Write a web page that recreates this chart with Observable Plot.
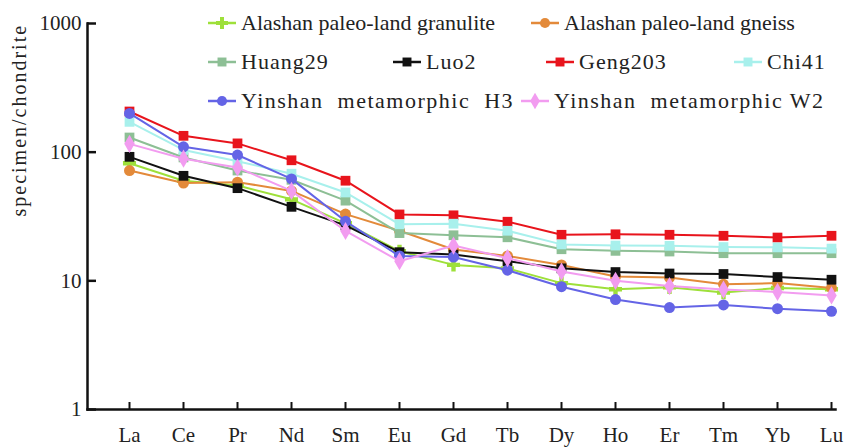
<!DOCTYPE html>
<html><head><meta charset="utf-8">
<script src="https://cdn.jsdelivr.net/npm/d3@7"></script>
<script src="https://cdn.jsdelivr.net/npm/@observablehq/plot@0.6"></script>
<style>
body{margin:0;background:#fff;}
#wrap{position:relative;width:845px;height:448px;font-family:"Liberation Serif","Times New Roman","DejaVu Serif",serif;}
.leg{position:absolute;display:flex;align-items:center;font-size:22px;color:#222;white-space:pre;line-height:1;}
.leg svg{margin-right:4px;}
</style></head><body><div id="wrap"></div>
<script>
// REE elements (x categories)
const elements = ["La","Ce","Pr","Nd","Sm","Eu","Gd","Tb","Dy","Ho","Er","Tm","Yb","Lu"];
const yTicks = [1, 10, 100, 1000];
const yLabel = "specimen/chondrite";

// series names, colours and symbols (legend order)
const names = ["Alashan paleo-land granulite","Alashan paleo-land gneiss","Huang29","Luo2","Geng203","Chi41","Yinshan  metamorphic  H3","Yinshan  metamorphic W2"];
const colors = ["#9ee03a","#e38a3a","#8dbf95","#111111","#e8141c","#a8f0ec","#6464e6","#f29cf0"];
const symbols = ["cross","circle","square","square","square","square","circle","diamond"];

// chondrite-normalised values
const granulite = [82, 60, 55, 43, 28, 17, 13.3, 12.5, 9.6, 8.6, 8.9, 8.1, 8.8, 8.6];
const gneiss    = [72, 57.5, 58.5, 50, 33, 24.5, 17.5, 15.6, 13.3, 10.8, 10.6, 9.4, 9.6, 8.8];
const huang29   = [130, 91, 72, 61, 42, 23.5, 22.6, 21.8, 17.6, 17.1, 16.9, 16.4, 16.4, 16.4];
const luo2      = [92, 65.5, 52.5, 37.6, 27, 16.7, 16, 14.2, 12.5, 11.7, 11.4, 11.3, 10.7, 10.2];
const geng203   = [207, 134, 117, 86.5, 60, 32.8, 32.3, 28.8, 22.8, 23, 22.8, 22.4, 21.7, 22.4];
const chi41     = [172, 104, 85, 68, 48.6, 27.5, 27.8, 24.5, 19.2, 18.8, 18.7, 18.3, 18.2, 17.8];
const h3        = [200, 110, 95, 62, 29, 15.6, 15.3, 12.1, 9.0, 7.15, 6.2, 6.5, 6.07, 5.8];
const w2        = [116, 89, 76, 50, 24.4, 14.2, 18.8, 15, 11.8, 10, 9.1, 8.55, 8.2, 7.7];

const seriesValues = [granulite, gneiss, huang29, luo2, geng203, chi41, h3, w2];

// legend layout: [row, left]
const legendPos = [[0,207],[0,530],[1,207],[1,392],[1,545],[1,733],[2,207],[2,520]];
const rowY = [23, 62, 101];
const rowSpacing = ["0px", "1px", "1.5px"];

const W = 845, H = 448, mL = 87, mR = 10, mT = 23, mB = 39;

const rows = [];
names.forEach((n, k) => seriesValues[k].forEach((v, i) => rows.push({name: n, el: elements[i], v})));

const seriesMarks = names.flatMap(n => [
  Plot.lineY(rows.filter(d => d.name === n), {x: "el", y: "v", stroke: "name", strokeWidth: 2}),
  Plot.dot(rows.filter(d => d.name === n), {x: "el", y: "v", fill: "name", symbol: "name", r: 5.5, stroke: "none"})
]);

const chart = Plot.plot({
  width: W, height: H,
  marginLeft: mL, marginRight: mR, marginTop: mT, marginBottom: mB,
  style: {fontFamily: "'Liberation Serif', 'Times New Roman', 'DejaVu Serif', serif", fontSize: "21px", color: "#222", background: "transparent"},
  x: {type: "point", domain: elements, range: [126, 833], padding: 0},
  y: {type: "log", domain: [1, 1000]},
  color: {domain: names, range: colors},
  symbol: {domain: names, range: symbols},
  marks: [
    Plot.axisY({ticks: yTicks, tickFormat: d => String(d), tickSize: 0, tickPadding: 6, label: null}),
    Plot.axisX({tickSize: 0, tickPadding: 18, label: null}),
    // short inward tick marks
    Plot.tickY(yTicks, {y: d => d, insetRight: (W - mL - mR) - 9, stroke: "#111", strokeWidth: 2.5}),
    Plot.tickX(elements, {x: d => d, insetTop: (H - mT - mB) - 7, stroke: "#111", strokeWidth: 2}),
    Plot.frame({anchor: "left", strokeWidth: 2.5, stroke: "#111"}),
    Plot.frame({anchor: "bottom", strokeWidth: 2.5, stroke: "#111"}),
    ...seriesMarks,
    Plot.text([yLabel], {frameAnchor: "left", rotate: -90, dx: -68, fontSize: 20, fill: "#222"})
  ]
});
const wrap = document.getElementById("wrap");
wrap.appendChild(chart);
chart.querySelectorAll("text").forEach(t => { if (t.textContent === yLabel) t.style.letterSpacing = "2px"; });

// legend overlay
names.forEach((n, k) => {
  const [r, left] = legendPos[k];
  const div = document.createElement("div");
  div.className = "leg";
  div.style.left = left + "px";
  div.style.top = (rowY[r] - 12) + "px";
  div.style.letterSpacing = rowSpacing[r];
  const sym = {cross: d3.symbolCross, circle: d3.symbolCircle, square: d3.symbolSquare, diamond: d3.symbolDiamond}[symbols[k]];
  const path = d3.symbol(sym, 80)();
  div.innerHTML = `<svg width="30" height="24"><line x1="1" x2="29" y1="12" y2="12" stroke="${colors[k]}" stroke-width="2.5"/><path d="${path}" transform="translate(15,12)" fill="${colors[k]}"/></svg><span>${n}</span>`;
  wrap.appendChild(div);
});
</script>
</body></html>
